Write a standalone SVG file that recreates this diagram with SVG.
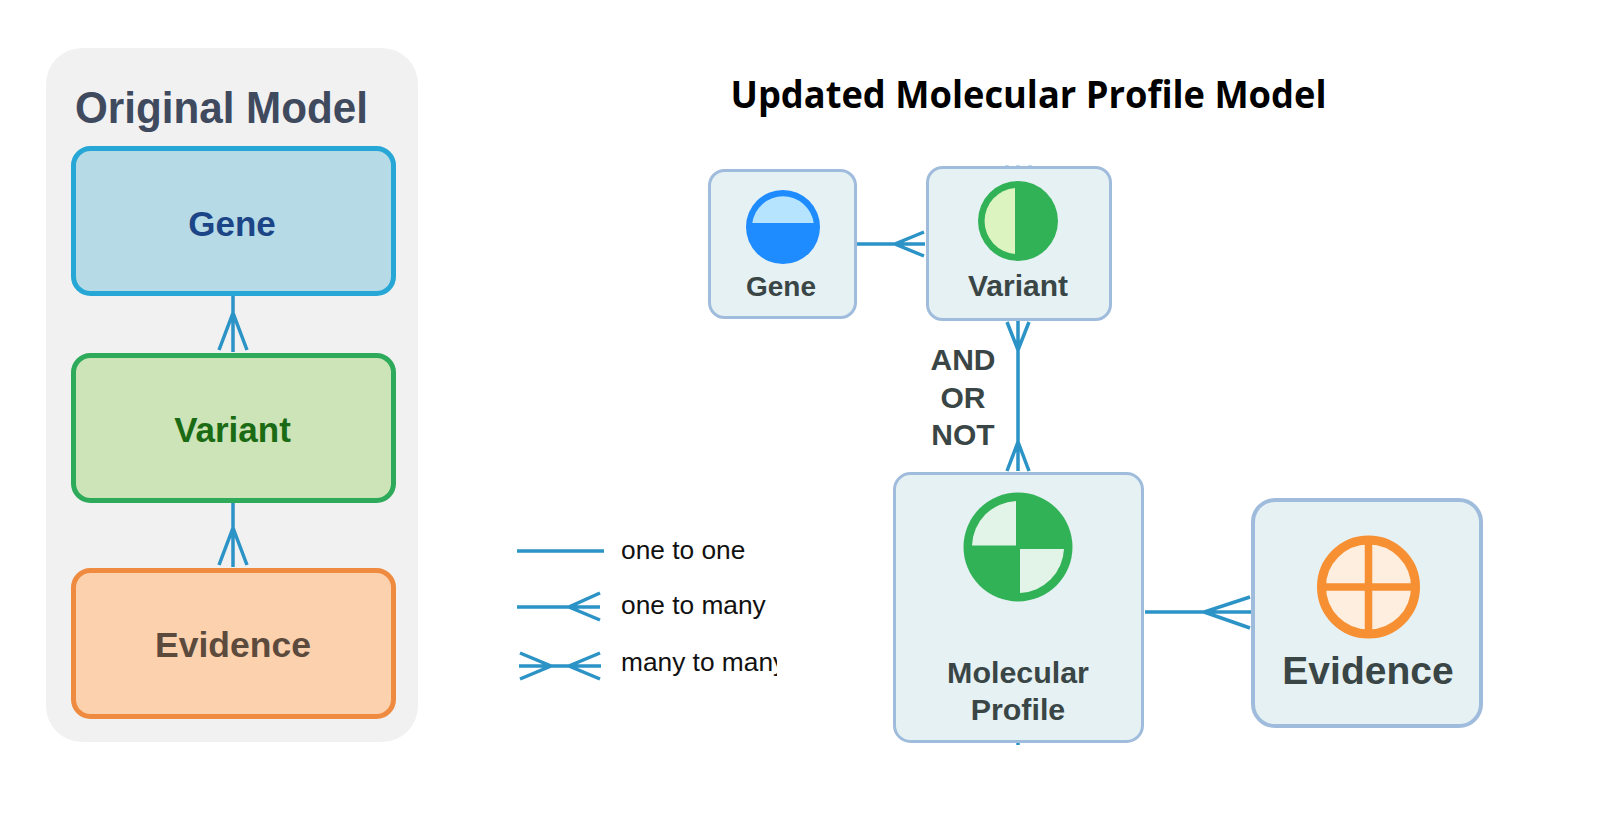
<svg xmlns="http://www.w3.org/2000/svg" width="1600" height="827" viewBox="0 0 1600 827">
<defs>
<style>
text{font-family:"Liberation Sans",Arial,sans-serif;font-weight:700;text-anchor:middle}
.c{fill:none;stroke:#2b93c6;stroke-width:3.5;stroke-linecap:butt;stroke-linejoin:miter}
.n{fill:#e6f1f4;stroke:#a0bcdc;stroke-width:3}
.l{fill:#3a4646}
.leg{font-weight:400;text-anchor:start;font-size:26.300px;fill:#111}
.o{stroke-width:5}
</style>
<clipPath id="legendClip"><rect x="610" y="640" width="167" height="50"/></clipPath>
</defs>
<rect id="panel" x="46" y="48" width="372" height="694" rx="36" fill="#f1f1f1"/>
<text x="221.500" y="123" font-size="45" fill="#3f4a5f" textLength="293" lengthAdjust="spacingAndGlyphs">Original Model</text>
<text x="1028.500" y="108" style="font-family:'Open Sans',sans-serif" font-size="38" fill="#000" textLength="596" lengthAdjust="spacingAndGlyphs">Updated Molecular Profile Model</text>
<g id="connectors">
<path class="c" d="M233 296V352M219 350L233 313L247 350"/>
<path class="c" d="M233 503V567M219 565L233 528L247 565"/>
<path class="c" d="M857 244H925M924 232L895 244L924 256"/>
<path class="c" d="M1018 321V471M1007 322L1018 350L1029 322M1007 471L1018 442L1029 471"/>
<path class="c" d="M1145 612H1251M1250 597L1204 612L1250 628"/>
<path class="c" d="M1018 720V745"/>
<path class="c" opacity=".35" d="M1007 165V175M1018 165V175M1030 165V175"/>
</g>
<g id="orig-gene"><rect class="o" x="73.500" y="148.500" width="320" height="145" rx="17" fill="#b7dbe6" stroke="#26a7d5"/><text x="232" y="236" font-size="35" fill="#1c4587">Gene</text></g>
<g id="orig-variant"><rect class="o" x="73.500" y="355.500" width="320" height="145" rx="17" fill="#cce4b7" stroke="#2dab5b"/><text x="232.500" y="442" font-size="35" fill="#1b6b14">Variant</text></g>
<g id="orig-evidence"><rect class="o" x="73.500" y="570.500" width="320" height="146" rx="17" fill="#fcd1ad" stroke="#ef8b40"/><text x="233" y="657" font-size="35.500" fill="#5c4a3d">Evidence</text></g>
<g id="gene">
<rect class="n" x="709.500" y="170.500" width="146" height="147" rx="15"/>
<circle cx="783" cy="227" r="37" fill="#1e8bff"/>
<path d="M752.300 223A31 31 0 0 1 813.700 223Z" fill="#b6e4ff"/>
<text class="l" x="781" y="296" font-size="28">Gene</text>
</g>
<g id="variant">
<rect class="n" x="927.500" y="167.500" width="183" height="152" rx="15"/>
<circle cx="1018" cy="221" r="40" fill="#32b257"/>
<path d="M1015 188.100A33 33 0 0 0 1015 253.900Z" fill="#dcf5c0"/>
<text class="l" x="1018" y="296" font-size="30">Variant</text>
</g>
<g id="molecular-profile">
<rect class="n" x="894.500" y="473.500" width="248" height="268" rx="16"/>
<circle cx="1018" cy="547" r="54.500" fill="#32b257"/>
<path d="M1016 545.500H972A46 46 0 0 1 1016 501Z" fill="#e2f3e7"/>
<path d="M1020 549H1064A46 46 0 0 1 1020 593Z" fill="#e2f3e7"/>
<text class="l" x="1018" y="683" font-size="30.400">Molecular</text>
<text class="l" x="1018" y="720" font-size="30.400">Profile</text>
</g>
<g id="evidence">
<rect class="n" style="stroke-width:4" x="1253" y="500" width="228" height="226" rx="22"/>
<circle cx="1368.500" cy="587" r="47" fill="#feeee0" stroke="#f79032" stroke-width="9"/>
<path d="M1368.500 540V634M1321.500 587H1415.500" fill="none" stroke="#f79032" stroke-width="7.500"/>
<text class="l" x="1368" y="684" font-size="39">Evidence</text>
</g>
<g id="gate-label">
<text class="l" x="963" y="370" font-size="30">AND</text>
<text class="l" x="963" y="408" font-size="30">OR</text>
<text class="l" x="963" y="445" font-size="30">NOT</text>
</g>
<g id="legend">
<path class="c" stroke-linecap="round" d="M517 551H604"/>
<path class="c" stroke-linecap="round" d="M517 607H600M600 593L569 607L600 620"/>
<path class="c" stroke-linecap="round" d="M519 666H601M520 653L551 666L520 679M600 653L569 666L600 679"/>
<text class="leg" x="621" y="559">one to one</text>
<text class="leg" x="621" y="614">one to many</text>
<text class="leg" x="621" y="671" clip-path="url(#legendClip)">many to many</text>
</g>
</svg>
